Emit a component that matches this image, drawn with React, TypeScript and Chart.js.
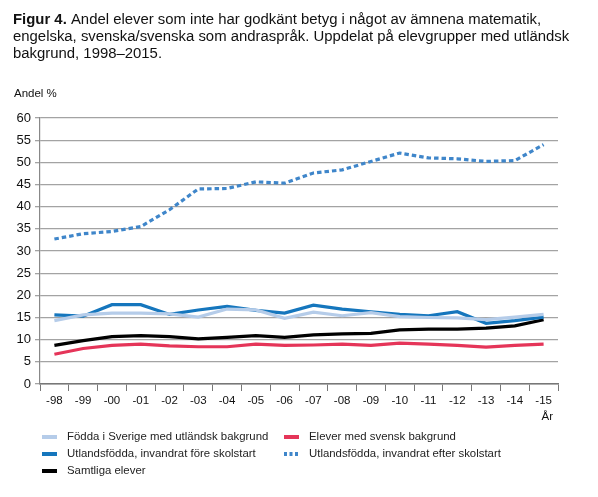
import React, { useEffect, useRef } from "react";
import { Chart, registerables } from "chart.js";

Chart.register(...registerables);

const years = ["-98","-99","-00","-01","-02","-03","-04","-05","-06","-07","-08","-09","-10","-11","-12","-13","-14","-15"];
const foddaSverige = [14.3,15.6,16.0,16.0,15.8,15.1,16.9,16.7,14.8,16.2,15.4,16.1,15.2,15.0,14.9,14.5,15.1,15.7];
const svenskBakgrund = [6.7,8.0,8.7,9.0,8.6,8.4,8.4,9.0,8.7,8.8,9.0,8.7,9.2,9.0,8.7,8.3,8.7,9.0];
const foreSkolstart = [15.6,15.3,17.9,17.9,15.7,16.7,17.5,16.6,16.0,17.8,16.9,16.3,15.7,15.4,16.3,13.7,14.3,15.1];
const efterSkolstart = [32.7,33.9,34.4,35.5,39.3,44.0,44.1,45.6,45.3,47.6,48.3,50.2,52.1,51.0,50.8,50.2,50.4,54.0];
const samtliga = [8.7,9.8,10.7,10.9,10.7,10.2,10.5,10.9,10.5,11.1,11.3,11.4,12.2,12.4,12.4,12.6,13.1,14.5];
const yTicks = [0,5,10,15,20,25,30,35,40,45,50,55,60];

const FONT = "'Liberation Sans', Arial, sans-serif";

const titleLines = [
  ["Figur 4.", " Andel elever som inte har godkänt betyg i något av ämnena matematik,"],
  ["", "engelska, svenska/svenska som andraspråk. Uppdelat på elevgrupper med utländsk"],
  ["", "bakgrund, 1998–2015."],
];

const legendItems = [
  { label: "Födda i Sverige med utländsk bakgrund", ds: 0, col: 0, row: 0 },
  { label: "Elever med svensk bakgrund", ds: 1, col: 1, row: 0 },
  { label: "Utlandsfödda, invandrat före skolstart", ds: 2, col: 0, row: 1 },
  { label: "Utlandsfödda, invandrat efter skolstart", ds: 3, col: 1, row: 1 },
  { label: "Samtliga elever", ds: 4, col: 0, row: 2 },
];

const decorPlugin = {
  id: "decor",
  afterDraw(chart: any) {
    const ctx = chart.ctx;
    ctx.save();
    ctx.fillStyle = "#111";
    ctx.textBaseline = "alphabetic";
    ctx.textAlign = "left";
    titleLines.forEach((parts, i) => {
      const y = 24 + i * 17;
      let x = 13;
      if (parts[0]) {
        ctx.font = "bold 14.9px " + FONT;
        ctx.fillText(parts[0], x, y);
        x += ctx.measureText(parts[0]).width;
      }
      ctx.font = "14.9px " + FONT;
      ctx.fillText(parts[1], x, y);
    });
    ctx.font = "11.5px " + FONT;
    ctx.textBaseline = "middle";
    ctx.fillText("Andel %", 14, 94);
    ctx.textAlign = "right";
    ctx.fillText("År", 553, 417);
    // legend
    ctx.textAlign = "left";
    ctx.font = "11.4px " + FONT;
    legendItems.forEach((it) => {
      const ds = chart.data.datasets[it.ds];
      const x0 = it.col === 0 ? 42 : 284;
      const y = 437 + it.row * 17;
      ctx.strokeStyle = ds.borderColor;
      ctx.lineWidth = 4;
      ctx.setLineDash(ds.borderDash && ds.borderDash.length ? [3, 2.5] : []);
      ctx.beginPath();
      ctx.moveTo(x0, y);
      ctx.lineTo(x0 + 15, y);
      ctx.stroke();
      ctx.setLineDash([]);
      ctx.fillStyle = "#222";
      ctx.fillText(it.label, x0 + 25, y);
    });
    ctx.restore();
  },
};

export default function App() {
  const ref = useRef<HTMLCanvasElement>(null);
  useEffect(() => {
    const mk = (data: number[], color: string, extra: any = {}) => ({
      data,
      borderColor: color,
      backgroundColor: color,
      borderWidth: 3.2,
      pointRadius: 0,
      tension: 0,
      fill: false,
      ...extra,
    });
    const chart = new Chart(ref.current!, {
      type: "line",
      data: {
        labels: years,
        datasets: [
          mk(foddaSverige, "#b5cce9", { order: 0 }),
          mk(svenskBakgrund, "#e53559", { order: 3 }),
          mk(foreSkolstart, "#1576bd", { order: 1 }),
          mk(efterSkolstart, "#3f86ca", { order: 4, borderDash: [4.5, 3] }),
          mk(samtliga, "#000000", { order: 2 }),
        ],
      },
      options: {
        responsive: false,
        animation: false,
        layout: { padding: { top: 118, right: 40, bottom: 0, left: 0 } },
        plugins: { legend: { display: false }, tooltip: { enabled: false }, title: { display: false } },
        scales: {
          x: {
            offset: true,
            grid: {
              offset: true,
              drawOnChartArea: false,
              drawTicks: true,
              tickLength: 7,
              color: "#777",
            },
            border: { color: "#777", width: 1.5 },
            ticks: {
              color: "#111",
              font: { family: FONT, size: 11.5 },
              padding: 3,
              maxRotation: 0,
              autoSkip: false,
            },
            afterFit: (s: any) => { s.height = 113; },
          },
          y: {
            min: 0,
            max: 60,
            afterBuildTicks: (s: any) => { s.ticks = yTicks.map((v) => ({ value: v })); },
            grid: { color: "#a3a3a3", lineWidth: 1.3, tickLength: 5 },
            border: { color: "#888", width: 1.2 },
            ticks: {
              color: "#111",
              font: { family: FONT, size: 13 },
              padding: 4,
            },
            afterFit: (s: any) => { s.width = 40; },
          },
        },
      },
      plugins: [decorPlugin],
    });
    return () => chart.destroy();
  }, []);
  return (
    <div style={{ position: "absolute", left: 0, top: 0, width: 598, height: 497, background: "#fff" }}>
      <canvas ref={ref} width={598} height={497} style={{ width: 598, height: 497, display: "block" }} />
    </div>
  );
}
